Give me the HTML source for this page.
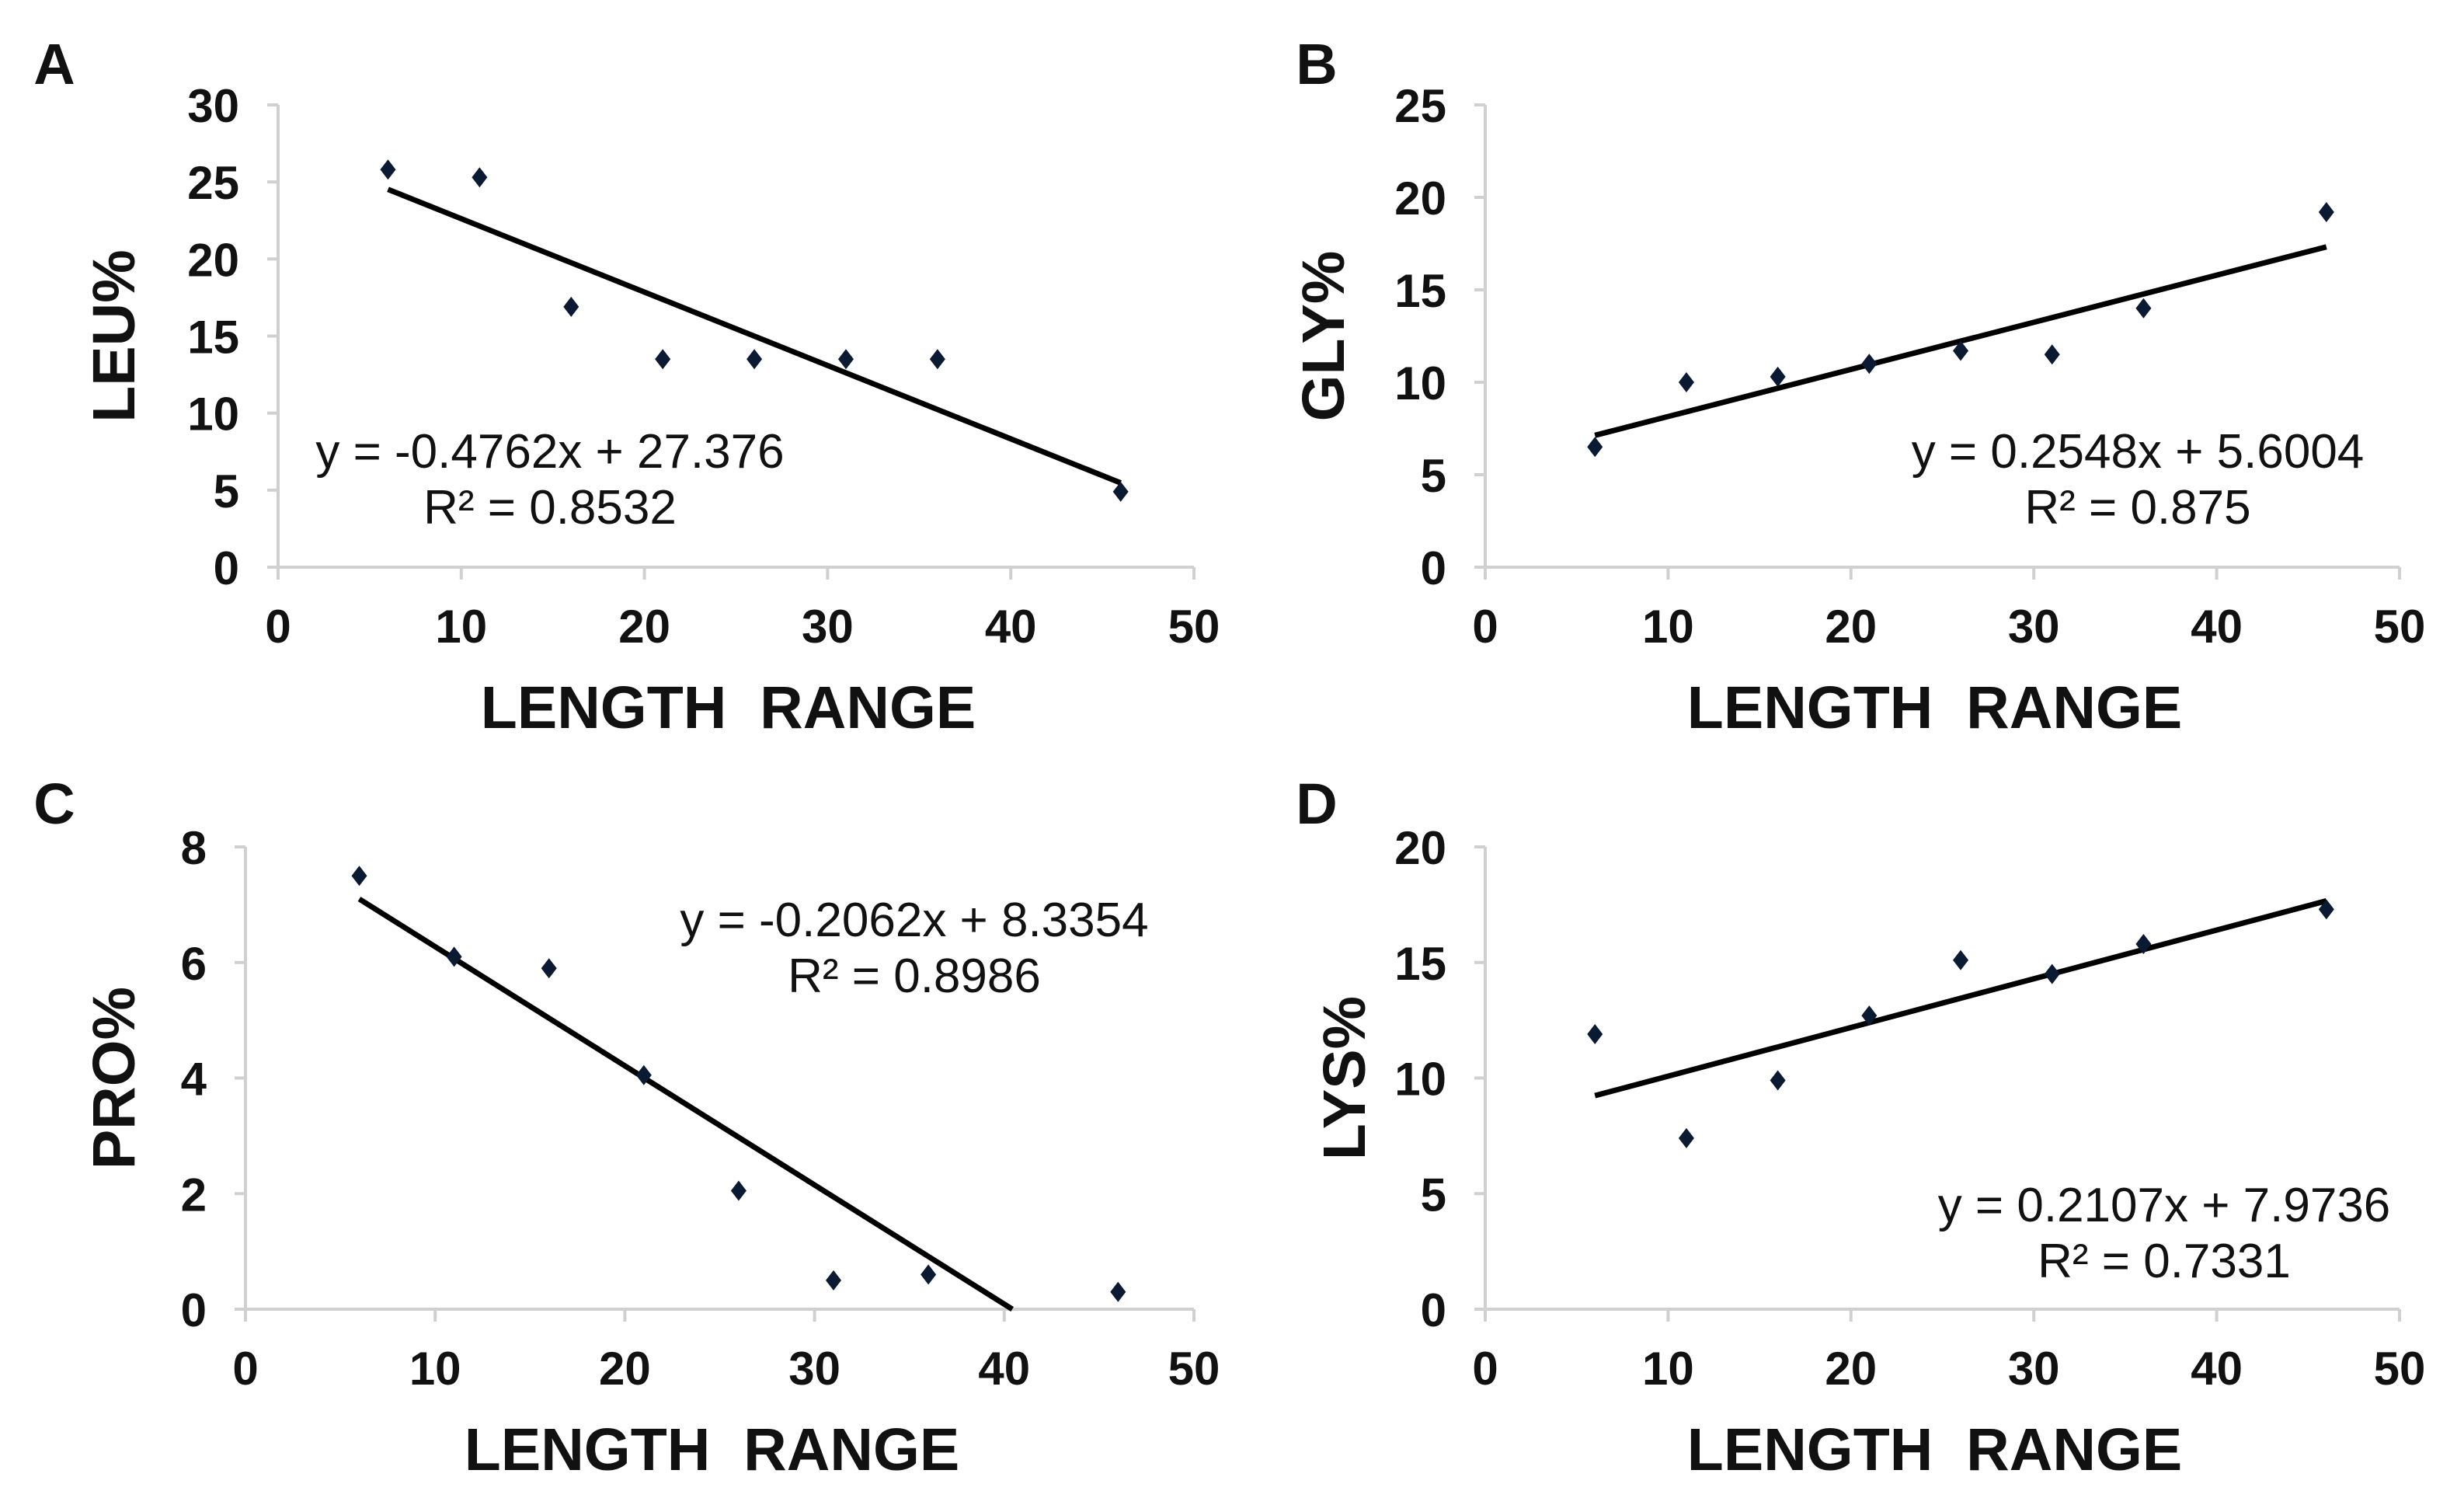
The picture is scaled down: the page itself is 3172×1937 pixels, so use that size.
<!DOCTYPE html>
<html><head><meta charset="utf-8"><style>
html,body{margin:0;padding:0;background:#fff;}
svg{display:block;font-family:"Liberation Sans",Arial,sans-serif;}
.tick{font-size:60px;font-weight:bold;fill:#111;}
.title{font-size:77px;font-weight:bold;fill:#111;}
.eq{font-size:62px;fill:#111;}
.letter{font-size:74px;font-weight:bold;fill:#111;}
</style></head><body>
<svg id="chart" width="3172" height="1937" viewBox="0 0 3172 1937" xmlns="http://www.w3.org/2000/svg"></svg>
<script>
const xs = [6, 11, 16, 21, 26, 31, 36, 46];
const leuValues = [25.8, 25.3, 16.9, 13.5, 13.5, 13.5, 13.5, 4.9];
const glyValues = [6.5, 10, 10.3, 11, 11.7, 11.5, 14, 19.2];
const proValues = [7.5, 6.1, 5.9, 4.05, 2.05, 0.5, 0.6, 0.3];
const lysValues = [11.9, 7.4, 9.9, 12.7, 15.1, 14.5, 15.8, 17.3];
const xTicks = [0, 10, 20, 30, 40, 50];
const leuTicks = [0, 5, 10, 15, 20, 25, 30];
const glyTicks = [0, 5, 10, 15, 20, 25];
const proTicks = [0, 2, 4, 6, 8];
const lysTicks = [0, 5, 10, 15, 20];
const slopes = [-0.4762, 0.2548, -0.2062, 0.2107];
const intercepts = [27.376, 5.6004, 8.3354, 7.9736];
const eqLabels = ["y = -0.4762x + 27.376", "y = 0.2548x + 5.6004", "y = -0.2062x + 8.3354", "y = 0.2107x + 7.9736"];
const r2Labels = ["R\u00B2 = 0.8532", "R\u00B2 = 0.875", "R\u00B2 = 0.8986", "R\u00B2 = 0.7331"];

const svg = document.getElementById('chart');
const NS = 'http://www.w3.org/2000/svg';
function mk(tag, attrs, parent) {
  const e = document.createElementNS(NS, tag);
  for (const k in attrs) e.setAttribute(k, attrs[k]);
  (parent || svg).appendChild(e);
  return e;
}

const panels = [
  {id:'a', letter:'A', ytitle:'LEU%', vals:leuValues, ticks:leuTicks, ymax:30, x0:358, x1:1537, y0:730, y1:135, lx:70, ly:108, ytx:173, eqx:708, eqy:602, xtY:937},
  {id:'b', letter:'B', ytitle:'GLY%', vals:glyValues, ticks:glyTicks, ymax:25, x0:1912, x1:3089, y0:730, y1:135, lx:1695, ly:108, ytx:1730, eqx:2752, eqy:602, xtY:937},
  {id:'c', letter:'C', ytitle:'PRO%', vals:proValues, ticks:proTicks, ymax:8, x0:316, x1:1537, y0:1685, y1:1090, lx:70, ly:1060, ytx:173, eqx:1177, eqy:1205, xtY:1892},
  {id:'d', letter:'D', ytitle:'LYS%', vals:lysValues, ticks:lysTicks, ymax:20, x0:1912, x1:3089, y0:1685, y1:1090, lx:1695, ly:1060, ytx:1757, eqx:2786, eqy:1572, xtY:1892}
];

panels.forEach((p, i) => {
  const g = mk('g', {});
  
  
  const sx = v => p.x0 + (v / 50) * (p.x1 - p.x0);
  const sy = v => p.y0 - (v / p.ymax) * (p.y0 - p.y1);

  const letter = mk('text', {x:p.lx, y:p.ly, class:'letter', 'text-anchor':'middle'}, g);
  letter.textContent = p.letter;
  
  

  const yaxis = mk('line', {x1:p.x0, y1:p.y1, x2:p.x0, y2:p.y0, stroke:'#d0d0d0', 'stroke-width':4}, g);
  
  
  const xaxis = mk('line', {x1:p.x0 - 14, y1:p.y0, x2:p.x1, y2:p.y0, stroke:'#d0d0d0', 'stroke-width':4}, g);
  
  

  p.ticks.forEach(t => {
    mk('line', {x1:p.x0 - 14, y1:sy(t), x2:p.x0, y2:sy(t), stroke:'#d0d0d0', 'stroke-width':4}, g);
    const tl = mk('text', {x:p.x0 - 50, y:sy(t) + 22, class:'tick', 'text-anchor':'end'}, g);
    tl.textContent = t;
    
    
  });
  xTicks.forEach(t => {
    mk('line', {x1:sx(t), y1:p.y0, x2:sx(t), y2:p.y0 + 16, stroke:'#d0d0d0', 'stroke-width':4}, g);
    const tl = mk('text', {x:sx(t), y:p.y0 + 97, class:'tick', 'text-anchor':'middle'}, g);
    tl.textContent = t;
    
    
  });

  const xt = mk('text', {x:(p.x0 + p.x1) / 2 - 10, y:p.xtY, class:'title', 'text-anchor':'middle'}, g);
  xt.textContent = 'LENGTH\u00A0 RANGE';
  
  
  const ymid = (p.y0 + p.y1) / 2;
  const yt = mk('text', {x:p.ytx, y:ymid, class:'title', 'text-anchor':'middle', transform:'rotate(-90 ' + p.ytx + ' ' + ymid + ')'}, g);
  yt.textContent = p.ytitle;
  
  

  const m = slopes[i], b = intercepts[i];
  let xa = xs[0], xb = xs[xs.length - 1];
  if (m * xb + b < 0) xb = -b / m;
  const tr = mk('line', {x1:sx(xa), y1:sy(m * xa + b), x2:sx(xb), y2:sy(m * xb + b), stroke:'#000', 'stroke-width':7}, g);
  
  

  xs.forEach((x, k) => {
    const cx = sx(x), cy = sy(p.vals[k]);
    const d = mk('polygon', {points:`${cx},${cy-13} ${cx+10},${cy} ${cx},${cy+13} ${cx-10},${cy}`, fill:'#0a1a33'}, g);
    
    
  });

  const eq = mk('text', {x:p.eqx, y:p.eqy, class:'eq', 'text-anchor':'middle'}, g);
  eq.textContent = eqLabels[i];
  
  
  const r2 = mk('text', {x:p.eqx, y:p.eqy + 72, class:'eq', 'text-anchor':'middle'}, g);
  r2.textContent = r2Labels[i];
  
  
});
</script>
</body></html>
